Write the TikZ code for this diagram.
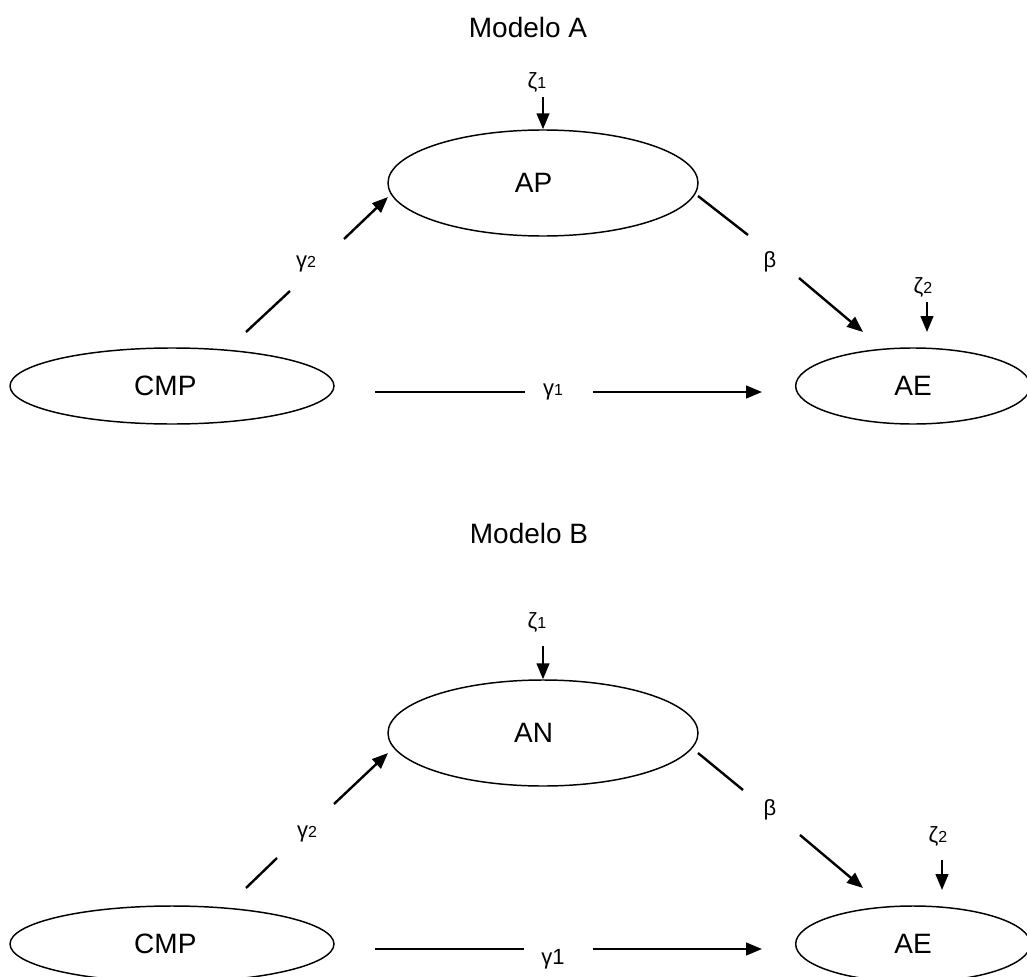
\documentclass[tikz,border=0pt]{standalone}
\usepackage{fontspec}
\setmainfont{Liberation Sans}
\usetikzlibrary{shapes.geometric,arrows.meta}
\tikzset{
  lat/.style={ellipse, draw, line width=1.1pt, inner sep=0pt, font=\fontsize{21}{21}\selectfont},
  conn/.style={line width=1.8pt},
  arr/.style={line width=1.8pt, -{Triangle[length=12pt,width=9.5pt]}},
  gk/.style={font=\fontsize{16.5}{16.5}\selectfont, inner sep=0pt},
  ttl/.style={font=\fontsize{21}{21}\selectfont, inner sep=0pt}
}
\newcommand{\smallsub}[1]{{\fontsize{12}{12}\selectfont #1}}
\begin{document}
\begin{tikzpicture}[x=0.75pt,y=-0.75pt]
\useasboundingbox (0,0) rectangle (1027,977);
% ---------------- Modelo A ----------------
\node[ttl] (tA) at (528,27) {Modelo A};
\node[lat, minimum width=232.5pt, minimum height=79.5pt] (AP) at (543,183) {AP\hspace*{14pt}};
\node[lat, minimum width=243pt, minimum height=57pt] (CMPa) at (172,386) {CMP\hspace*{10pt}};
\node[lat, minimum width=176pt, minimum height=57pt] (AEa) at (913,386) {AE};
\node[gk] (z1a) at (537,82) {ζ\smallsub{1}};
\node[gk] (z2a) at (923,287) {ζ\smallsub{2}};
\node[gk] (g2a) at (306,264) {γ\smallsub{2}};
\node[gk] (ba) at (770,262) {β};
\node[gk] (g1a) at (553,392) {γ\smallsub{1}};
\coordinate (z1a0) at (543,97);
\coordinate (z2a0) at (927,302);
\coordinate (z2a1) at (927,332);
\coordinate (g2a0) at (246,332);
\coordinate (g2a1) at (290,291);
\coordinate (g2a2) at (344,239);
\coordinate (g2a3) at (388,197);
\coordinate (ba0) at (698,196);
\coordinate (ba1) at (748,235);
\coordinate (ba2) at (799,278);
\coordinate (ba3) at (863,332);
\coordinate (g1a0) at (375,392);
\coordinate (g1a1) at (525,392);
\coordinate (g1a2) at (593,392);
\coordinate (g1a3) at (762,392);
\draw[arr] (z1a0) -- (AP.north);
\draw[arr] (z2a0) -- (z2a1);
\draw[conn] (g2a0) -- (g2a1);
\draw[arr] (g2a2) -- (g2a3);
\draw[conn] (ba0) -- (ba1);
\draw[arr] (ba2) -- (ba3);
\draw[conn] (g1a0) -- (g1a1);
\draw[arr] (g1a2) -- (g1a3);
% ---------------- Modelo B ----------------
\node[ttl] (tB) at (529,533) {Modelo B};
\node[lat, minimum width=232.5pt, minimum height=79.5pt] (AN) at (543,733) {AN\hspace*{14pt}};
\node[lat, minimum width=243pt, minimum height=57pt] (CMPb) at (172,944) {CMP\hspace*{10pt}};
\node[lat, minimum width=176pt, minimum height=57pt] (AEb) at (913,944) {AE};
\node[gk] (z1b) at (537,622) {ζ\smallsub{1}};
\node[gk] (z2b) at (938,836) {ζ\smallsub{2}};
\node[gk] (g2b) at (307,834) {γ\smallsub{2}};
\node[gk] (bb) at (770,810) {β};
\node[gk] (g1b) at (553,959) {γ1};
\coordinate (z1b0) at (543,646);
\coordinate (z2b0) at (942,860);
\coordinate (z2b1) at (942,890);
\coordinate (g2b0) at (246,888);
\coordinate (g2b1) at (277,858);
\coordinate (g2b2) at (334,804);
\coordinate (g2b3) at (388,753);
\coordinate (bb0) at (698,753);
\coordinate (bb1) at (743,790);
\coordinate (bb2) at (800,835);
\coordinate (bb3) at (863,888);
\coordinate (g1b0) at (375,949);
\coordinate (g1b1) at (524,949);
\coordinate (g1b2) at (593,949);
\coordinate (g1b3) at (762,949);
\draw[arr] (z1b0) -- (AN.north);
\draw[arr] (z2b0) -- (z2b1);
\draw[conn] (g2b0) -- (g2b1);
\draw[arr] (g2b2) -- (g2b3);
\draw[conn] (bb0) -- (bb1);
\draw[arr] (bb2) -- (bb3);
\draw[conn] (g1b0) -- (g1b1);
\draw[arr] (g1b2) -- (g1b3);
\end{tikzpicture}
\end{document}
